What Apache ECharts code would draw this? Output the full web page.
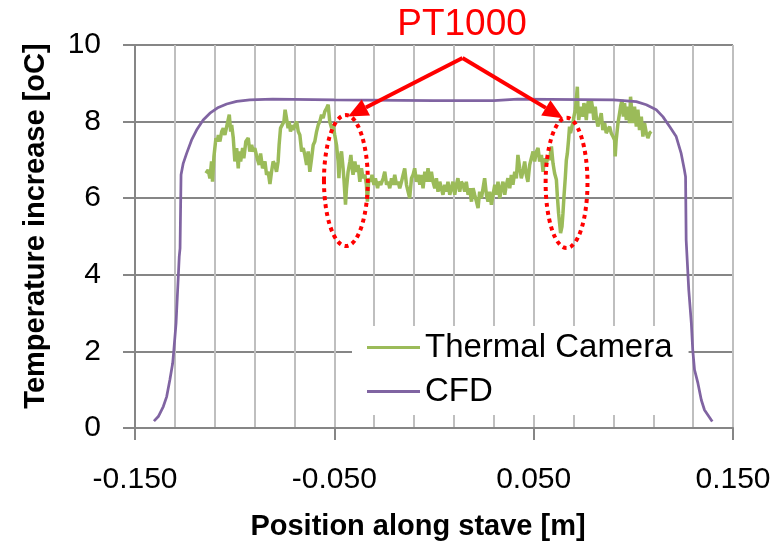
<!DOCTYPE html>
<html>
<head>
<meta charset="utf-8">
<script src="https://cdn.jsdelivr.net/npm/echarts@6/dist/echarts.min.js"></script>
<style>html,body{margin:0;padding:0;background:#fff}#c{width:781px;height:549px}</style>
</head>
<body>
<div id="c"></div>
<script>
// ---- data (position [m], temperature increase [oC]) ----
const thermalCamera = [
[-0.1144,6.65],[-0.1133,6.74],[-0.1124,6.52],[-0.1116,6.96],[-0.1111,6.43],[-0.1104,7.09],[-0.1094,7.57],[-0.1087,7.48],[-0.1082,7.65],[-0.1074,7.48],
[-0.1065,7.74],[-0.1057,7.83],[-0.1049,7.65],[-0.1040,7.87],[-0.1032,7.83],[-0.1027,8.18],[-0.1020,7.74],[-0.1015,7.91],[-0.1007,7.57],[-0.0999,6.96],
[-0.0990,7.31],[-0.0982,6.78],[-0.0977,7.22],[-0.0970,6.96],[-0.0960,7.31],[-0.0954,7.04],[-0.0944,7.48],[-0.0932,7.57],[-0.0924,7.22],[-0.0915,7.39],
[-0.0907,7.22],[-0.0899,7.31],[-0.0887,7.04],[-0.0877,6.87],[-0.0870,7.17],[-0.0860,6.78],[-0.0848,6.96],[-0.0840,6.61],[-0.0832,6.69],[-0.0823,6.37],
[-0.0815,6.69],[-0.0807,6.96],[-0.0798,6.87],[-0.0790,6.69],[-0.0782,6.96],[-0.0777,7.39],[-0.0770,7.83],[-0.0760,7.87],[-0.0753,8.00],[-0.0747,8.31],
[-0.0740,8.09],[-0.0732,7.83],[-0.0727,8.00],[-0.0720,7.74],[-0.0713,7.91],[-0.0707,7.78],[-0.0698,7.91],[-0.0689,8.00],[-0.0681,7.74],[-0.0673,7.65],
[-0.0664,7.22],[-0.0656,7.31],[-0.0648,7.13],[-0.0639,6.87],[-0.0631,7.22],[-0.0623,6.69],[-0.0614,7.04],[-0.0606,7.39],[-0.0598,7.48],[-0.0589,7.74],
[-0.0581,7.91],[-0.0573,8.00],
[-0.0564,8.18],[-0.0556,8.09],[-0.0548,8.26],[-0.0539,8.35],[-0.0531,8.44],[-0.0523,8.00],[-0.0514,7.83],[-0.0506,7.91],[-0.0498,7.65],[-0.0489,7.39],
[-0.0481,6.96],[-0.0477,6.52],[-0.0472,7.04],[-0.0464,7.22],[-0.0456,6.78],[-0.0451,6.43],[-0.0444,5.83],[-0.0439,6.26],[-0.0431,6.69],[-0.0422,6.96],
[-0.0417,7.13],[-0.0411,6.78],[-0.0406,6.61],[-0.0397,6.96],[-0.0389,6.69],[-0.0381,6.87],[-0.0372,6.43],[-0.0364,6.78],[-0.0356,6.52],[-0.0347,6.61],
[-0.0339,6.35],[-0.0334,5.91],[-0.0327,6.52],[-0.0317,6.43],[-0.0311,6.61],[-0.0301,6.35],[-0.0294,6.52],[-0.0283,6.26],[-0.0277,6.43],[-0.0267,6.35],
[-0.0255,6.52],[-0.0247,6.69],[-0.0238,6.35],[-0.0230,6.43],[-0.0222,6.26],[-0.0213,6.52],[-0.0205,6.35],[-0.0197,6.61],[-0.0188,6.35],[-0.0180,6.43],
[-0.0172,6.26],[-0.0163,6.43],[-0.0155,6.61],[-0.0147,6.78],[-0.0138,6.35],[-0.0130,6.17],[-0.0122,6.00],[-0.0113,6.52],[-0.0105,6.61],[-0.0097,6.78],
[-0.0088,6.43],[-0.0080,6.61],[-0.0071,6.35],[-0.0063,6.61],[-0.0055,6.26],[-0.0046,6.69],[-0.0038,6.43],[-0.0030,6.78],[-0.0021,6.43],[-0.0013,6.69],
[-0.0005,6.43],
[0.0004,6.26],[0.0012,6.52],[0.0020,6.17],[0.0029,6.43],[0.0037,6.26],[0.0045,6.09],[0.0054,6.35],[0.0062,6.17],[0.0070,6.43],[0.0079,6.09],
[0.0087,6.26],[0.0095,6.43],[0.0104,6.09],[0.0112,6.35],[0.0120,6.52],[0.0129,6.17],[0.0137,6.43],[0.0146,6.35],[0.0154,6.17],[0.0162,6.43],
[0.0171,6.09],[0.0179,6.26],[0.0188,5.91],[0.0196,6.26],[0.0204,6.09],[0.0213,5.91],[0.0221,5.74],[0.0229,6.17],[0.0238,6.00],[0.0246,6.26],
[0.0254,6.52],[0.0263,6.09],[0.0271,5.91],[0.0279,6.17],[0.0288,5.83],[0.0296,6.09],[0.0305,6.35],[0.0313,6.09],[0.0321,6.43],[0.0330,6.00],
[0.0338,6.26],[0.0346,6.43],[0.0355,6.09],[0.0363,6.35],[0.0371,6.52],[0.0380,6.26],[0.0388,6.61],[0.0396,6.35],[0.0405,6.69],[0.0413,6.52],
[0.0421,7.13],[0.0430,6.78],[0.0438,6.52],[0.0446,6.69],[0.0455,6.96],[0.0463,6.61],[0.0471,6.43],[0.0480,6.87],[0.0488,7.04],[0.0497,7.22],
[0.0505,6.96],[0.0514,7.22],[0.0522,7.31],[0.0530,6.96],[0.0539,7.13],[0.0547,6.69],[0.0555,7.04],
[0.0564,6.91],[0.0572,7.09],[0.0580,7.00],[0.0589,7.35],[0.0597,6.91],[0.0605,6.65],[0.0614,6.48],[0.0619,6.04],[0.0625,5.61],[0.0630,5.35],
[0.0635,5.09],[0.0642,5.26],[0.0647,5.61],[0.0652,6.04],[0.0659,6.56],[0.0664,7.00],[0.0669,7.17],[0.0675,7.52],[0.0680,7.87],[0.0685,7.70],
[0.0692,7.87],[0.0697,7.96],[0.0702,8.13],[0.0709,8.31],[0.0714,8.57],[0.0719,8.91],[0.0722,8.39],[0.0726,8.04],[0.0731,8.22],[0.0739,8.39],
[0.0747,8.13],[0.0752,8.48],[0.0759,8.31],[0.0764,8.04],[0.0769,8.39],[0.0776,8.57],[0.0781,8.22],[0.0789,8.57],[0.0797,8.31],[0.0802,8.04],
[0.0809,8.39],[0.0814,8.13],[0.0822,7.87],[0.0831,8.04],[0.0839,8.22],[0.0847,7.78],[0.0856,7.96],[0.0864,7.70],[0.0872,7.78],[0.0881,7.87],
[0.0889,7.70],[0.0898,7.61],[0.0906,7.52],[0.0909,7.09],[0.0914,7.52],[0.0923,7.96],[0.0931,8.22],[0.0936,8.39],[0.0943,8.57],[0.0950,8.13],
[0.0956,8.48],[0.0965,8.04],[0.0973,8.39],[0.0981,7.96],[0.0986,8.65],[0.0993,8.22],[0.0998,7.96],[0.1006,8.39],[0.1015,7.87],[0.1023,8.31],
[0.1031,7.78],[0.1040,8.13],[0.1048,7.61],[0.1056,7.96],[0.1065,7.70],[0.1073,7.57],[0.1082,7.70],[0.1090,7.74]
];
const cfd = [
[-0.1405,0.18],[-0.1383,0.30],[-0.1358,0.56],[-0.1341,0.82],[-0.1325,1.26],[-0.1311,1.69],[-0.1305,2.04],[-0.1294,2.74],[-0.1286,3.61],[-0.1278,4.48],
[-0.1274,4.69],[-0.1269,6.61],[-0.1258,6.91],[-0.1241,7.17],[-0.1216,7.52],[-0.1191,7.78],[-0.1158,8.04],[-0.1124,8.22],[-0.1082,8.37],[-0.1040,8.46],
[-0.0990,8.53],[-0.0924,8.57],[-0.0810,8.59],[-0.0500,8.57],[0.0000,8.55],[0.0300,8.55],[0.0420,8.59],[0.0900,8.57],[0.1015,8.52],[0.1065,8.44],
[0.1115,8.31],[0.1148,8.13],[0.1182,7.87],[0.1215,7.61],[0.1240,7.17],[0.1256,6.74],[0.1262,6.56],[0.1265,4.91],[0.1278,3.61],[0.1291,2.74],
[0.1298,2.04],[0.1307,1.52],[0.1324,1.17],[0.1341,0.73],[0.1357,0.47],[0.1396,0.17]
];
const seriesNames = ['Thermal Camera', 'CFD'];
const xTickLabels = ['-0.150', '-0.050', '0.050', '0.150'];
const xTitle = 'Position along stave [m]';
const yTitle = 'Temperature increase [oC]';
const noteText = 'PT1000';
// annotation anchors in data space
const arrowApex = [0.0143, 9.66];
const arrowTips = [[-0.0431, 8.13], [0.0647, 8.09]];
const ellipses = [{c: [-0.0442, 6.46], rx: 0.011, ry: 1.71}, {c: [0.0665, 6.40], rx: 0.0105, ry: 1.70}];

// x axis shifted so that min (0) is a multiple of the tick interval
const XMIN = -0.15, XMAX = 0.15;
const shift = p => [p[0] - XMIN, p[1]];

const FONT = 'Liberation Sans';
const chart = echarts.init(document.getElementById('c'), null, {renderer: 'canvas'});
const option = {
  animation: false,
  backgroundColor: '#fff',
  textStyle: {fontFamily: FONT},
  grid: {left: 135, right: 48, top: 45, bottom: 121, containLabel: false},
  xAxis: [{
    type: 'value', min: 0, max: XMAX - XMIN, interval: 0.02, position: 'bottom',
    axisLine: {show: false}, axisTick: {show: false}, axisLabel: {show: false},
    splitLine: {show: true, lineStyle: {color: '#BFBFBF', width: 2}}
  }, {
    type: 'value', min: 0, max: XMAX - XMIN, interval: 0.1, position: 'bottom',
    axisLine: {show: true, onZero: false, lineStyle: {color: '#868686', width: 2}},
    axisTick: {show: true, length: 12, lineStyle: {color: '#868686', width: 2}},
    splitLine: {show: false},
    axisLabel: {show: true, margin: 37, fontSize: 30, color: '#000', fontFamily: FONT,
      showMinLabel: true, showMaxLabel: true,
      formatter: v => xTickLabels[Math.round(v / 0.1)] || ''}
  }],
  yAxis: {
    type: 'value', min: 0, max: 10, interval: 2,
    axisLine: {show: true, lineStyle: {color: '#868686', width: 2}},
    axisTick: {show: true, length: 12, lineStyle: {color: '#868686', width: 2}},
    splitLine: {show: true, lineStyle: {color: '#868686', width: 2}},
    axisLabel: {margin: 34, fontSize: 30, color: '#000', fontFamily: FONT}
  },
  legend: {
    orient: 'vertical', left: 352, top: 326, z: 3,
    backgroundColor: '#fff',
    padding: [5, 16, 7, 15], itemGap: 11, itemWidth: 53, itemHeight: 14,
    textStyle: {fontSize: 33, color: '#000', fontFamily: FONT},
    data: seriesNames.map(n => ({name: n, icon: 'path://M0,0 L53,0 L53,3 L0,3 Z'}))
  },
  series: [{
    name: seriesNames[0], type: 'line', xAxisIndex: 0, showSymbol: false, symbol: 'none',
    lineStyle: {color: '#9BBB59', width: 3.5}, itemStyle: {color: '#9BBB59'},
    data: thermalCamera.map(shift), z: 4
  }, {
    name: seriesNames[1], type: 'line', xAxisIndex: 0, showSymbol: false, symbol: 'none',
    lineStyle: {color: '#8064A2', width: 2.75}, itemStyle: {color: '#8064A2'},
    data: cfd.map(shift), z: 5
  }]
};
chart.setOption(option);

const toPx = p => chart.convertToPixel({seriesIndex: 0}, shift(p));
const graphics = [];
// title texts
graphics.push({type: 'text', x: 418, y: 527, z: 10, style: {text: xTitle, fill: '#000',
  font: 'bold 29px "' + FONT + '"', textAlign: 'center', textVerticalAlign: 'middle'}});
graphics.push({type: 'text', x: 36, y: 226, rotation: Math.PI / 2, z: 10, style: {text: yTitle, fill: '#000',
  font: 'bold 29px "' + FONT + '"', textAlign: 'center', textVerticalAlign: 'middle'}});
graphics.push({type: 'text', x: 462, y: 25, z: 10, style: {text: noteText, fill: '#FF0000',
  font: '37px "' + FONT + '"', textAlign: 'center', textVerticalAlign: 'middle'}});
// arrows
const a = toPx(arrowApex);
arrowTips.forEach(t => {
  const b = toPx(t);
  const dx = b[0] - a[0], dy = b[1] - a[1], len = Math.hypot(dx, dy);
  const ux = dx / len, uy = dy / len, L = 20, W = 9;
  const bx = b[0] - ux * L, by = b[1] - uy * L;
  graphics.push({type: 'line', z: 10, shape: {x1: a[0], y1: a[1], x2: bx, y2: by},
    style: {stroke: '#FF0000', lineWidth: 4}});
  graphics.push({type: 'polygon', z: 10, shape: {points: [[b[0], b[1]], [bx - uy * W, by + ux * W], [bx + uy * W, by - ux * W]]},
    style: {fill: '#FF0000'}});
});
// dotted ellipses
ellipses.forEach(e => {
  const c = toPx(e.c);
  const r = toPx([e.c[0] + e.rx, e.c[1] + e.ry]);
  graphics.push({type: 'ellipse', z: 10, shape: {cx: c[0], cy: c[1], rx: Math.abs(r[0] - c[0]), ry: Math.abs(r[1] - c[1])},
    style: {fill: 'none', stroke: '#FF0000', lineWidth: 4, lineDash: [4, 4]}});
});
chart.setOption({graphic: graphics});
</script>
</body>
</html>
